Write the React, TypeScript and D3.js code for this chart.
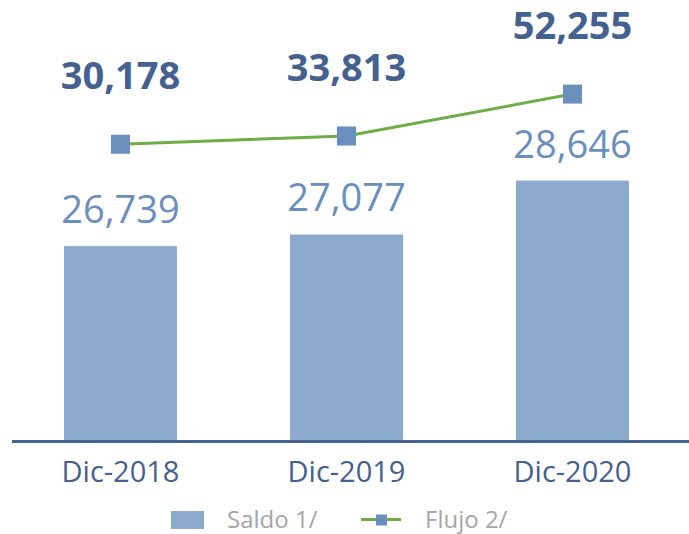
import React from "react";
import * as d3 from "d3";

const categories = ["Dic-2018", "Dic-2019", "Dic-2020"];
const saldo = [26739, 27077, 28646];
const flujo = [30178, 33813, 52255];
const seriesNames = ["Saldo 1/", "Flujo 2/"];

const W = 689;
const H = 534;
const FONT = "'Open Sans', sans-serif";
const DARK = "#44618f";
const BAR = "#8caacd";
const MARK = "#6a8fbd";
const GREEN = "#70ad47";

export default function App() {
  const x = d3.scaleBand<string>().domain(categories).range([7.5, 685.5]).paddingInner(0.5).paddingOuter(0.25);
  const yBar = d3.scaleLinear().domain([21100, 30000]).range([440, 134]);
  const yLine = d3.scaleLinear().domain([-100000, 60000]).range([440, 76.5]);
  const fmt = d3.format(",");
  const cx = (c: string) => (x(c) as number) + x.bandwidth() / 2;
  const line = d3
    .line<number>()
    .x((_, i) => cx(categories[i]))
    .y((d) => yLine(d));
  const ms = 19;

  return (
    <svg width={W} height={H} style={{ position: "absolute", left: 0, top: 0, display: "block" }} fontFamily={FONT}>
      <rect width={W} height={H} fill="#fff" />
      {categories.map((c, i) => (
        <g key={c}>
          <rect x={x(c)} y={yBar(saldo[i])} width={x.bandwidth()} height={440 - yBar(saldo[i])} fill={BAR} />
          <text x={cx(c)} y={yBar(saldo[i]) - 23} textAnchor="middle" fontSize={38} fill={MARK}>
            {fmt(saldo[i])}
          </text>
          <text x={cx(c)} y={482} textAnchor="middle" fontSize={29} fill={DARK}>
            {c}
          </text>
        </g>
      ))}
      <line x1={12} x2={689} y1={441.5} y2={441.5} stroke={DARK} strokeWidth={3} />
      <path d={line(flujo) || ""} fill="none" stroke={GREEN} strokeWidth={3} />
      {categories.map((c, i) => (
        <g key={c + "l"}>
          <rect x={cx(c) - ms / 2} y={yLine(flujo[i]) - ms / 2} width={ms} height={ms} fill={MARK} />
          <text x={cx(c)} y={yLine(flujo[i]) - 55} textAnchor="middle" fontSize={38} fontWeight={700} fill={DARK}>
            {fmt(flujo[i])}
          </text>
        </g>
      ))}
      <g>
        <rect x={171} y={511} width={33} height={18} fill={BAR} />
        <text x={227} y={528} fontSize={24} fill="#a6a6a6">
          {seriesNames[0]}
        </text>
        <line x1={361} x2={401} y1={519.5} y2={519.5} stroke={GREEN} strokeWidth={3} />
        <rect x={376} y={514.5} width={11} height={11} fill={MARK} />
        <text x={425} y={528} fontSize={24} fill="#a6a6a6">
          {seriesNames[1]}
        </text>
      </g>
    </svg>
  );
}
